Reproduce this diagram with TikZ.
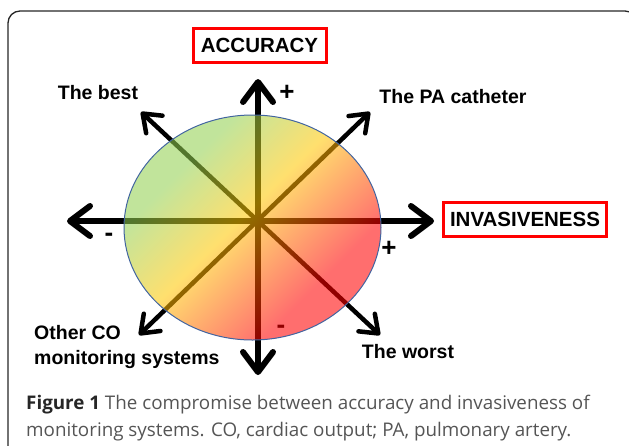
\documentclass[tikz,border=0pt]{standalone}
\usepackage{fontspec}
\setmainfont{Liberation Sans}
\newfontfamily\capfont{Open Sans}
\usetikzlibrary{arrows.meta}

\definecolor{cgreen}{RGB}{146,208,80}
\definecolor{cyellow}{RGB}{255,200,0}
\definecolor{cred}{RGB}{255,0,0}
\definecolor{rim}{RGB}{65,100,160}
\definecolor{capgray}{RGB}{85,85,85}
\pgfdeclarehorizontalshading{discshade}{100bp}{color(0bp)=(cgreen); color(31bp)=(cgreen);
  color(47bp)=(cyellow); color(68bp)=(cred); color(100bp)=(cred)}

\tikzset{
  axisarrow/.style={line width=6pt,
    arrows={Straight Barb[length=20pt,width=30pt,round]-Straight Barb[length=20pt,width=30pt,round]}},
  diagarrow/.style={line width=4.5pt,
    arrows={Straight Barb[length=16pt,width=24pt,round]-Straight Barb[length=16pt,width=24pt,round]}},
  lbl/.style={font=\fontsize{19.5}{25}\selectfont\bfseries, inner sep=0pt},
  sign/.style={font=\fontsize{26}{26}\selectfont\bfseries, inner sep=0pt},
  redbox/.style={lbl, font=\fontsize{20.5}{25}\selectfont\bfseries, draw=red, line width=3pt, minimum height=34pt}
}

\begin{document}
\begin{tikzpicture}[x=1pt,y=-1pt]
\useasboundingbox (0,0) rectangle (629,445);
\draw[rounded corners=12pt, line width=1.3pt, black!85] (8,11) rectangle (637,470);

% axes
\coordinate (top) at (258,79);
\coordinate (bottom) at (258,375);
\coordinate (left) at (67,221);
\coordinate (right) at (434,221);
\coordinate (nw) at (141,112);
\coordinate (se) at (380,335);
\coordinate (ne) at (370,112);
\coordinate (sw) at (139,335);
\draw[axisarrow] (bottom) -- (top);
\draw[axisarrow] (left) -- (right);
\draw[diagarrow] (sw) -- (ne);
\draw[diagarrow] (se) -- (nw);
\node[sign] (minusb) at (281,329) {-};

% the disc
\shade[shading=discshade, shading angle=-45, fill opacity=0.57]
  (252.5,227.5) ellipse [x radius=128.5, y radius=112.5];
\draw[rim, line width=1pt] (252.5,227.5) ellipse [x radius=128.5, y radius=112.5];

\node[redbox, minimum width=133pt] (acc) at (259.5,45.5) {ACCURACY};
\node[redbox, minimum width=163pt] (inv) at (525,219.5) {INVASIVENESS};
\node[sign] (plust) at (287,93) {+};
\node[sign] (plusr) at (389,249) {+};
\node[sign] (minusl) at (109,237) {-};

\node[lbl] (best) at (98,93) {The best};
\node[lbl] (pa) at (453,97) {The PA catheter};
\node[lbl, anchor=west, align=left] (other) at (34,347) {Other CO\\monitoring systems};
\node[lbl] (worst) at (408,352) {The worst};

\node[anchor=base west, align=left, inner sep=0pt, text=capgray,
  font=\capfont\fontsize{18.8}{27}\selectfont] (caption) at (26,436)
  {\textcolor{black!85}{\textbf{Figure 1}} The compromise between accuracy and invasiveness of\\
   monitoring systems. CO, cardiac output; PA, pulmonary artery.};
\end{tikzpicture}
\end{document}
